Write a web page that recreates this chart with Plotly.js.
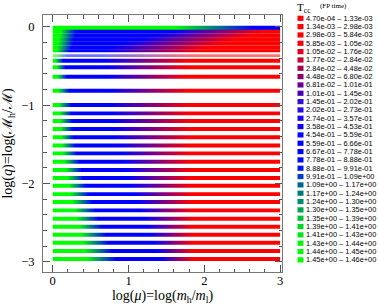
<!DOCTYPE html>
<html><head><meta charset="utf-8">
<script src="https://cdn.plot.ly/plotly-3.0.1.min.js"></script>
<style>html,body{margin:0;padding:0;background:#fff}</style>
</head><body><div id="chart" style="width:379px;height:305px"></div>
<script>
// ---- legend bins: T_cc (FP time) ----
const binLow  = ['4.70e-04','1.34e-03','2.98e-03','5.85e-03','1.05e-02','1.77e-02','2.84e-02','4.48e-02','6.81e-02','1.01e-01',
                 '1.45e-01','2.02e-01','2.74e-01','3.58e-01','4.54e-01','5.59e-01','6.67e-01','7.78e-01','8.88e-01','9.91e-01',
                 '1.09e+00','1.17e+00','1.24e+00','1.30e+00','1.35e+00','1.39e+00','1.41e+00','1.43e+00','1.44e+00','1.45e+00'];
const binHigh = ['1.33e-03','2.98e-03','5.84e-03','1.05e-02','1.76e-02','2.84e-02','4.48e-02','6.80e-02','1.01e-01','1.45e-01',
                 '2.02e-01','2.73e-01','3.57e-01','4.53e-01','5.59e-01','6.66e-01','7.78e-01','8.88e-01','9.91e-01','1.09e+00',
                 '1.17e+00','1.24e+00','1.30e+00','1.35e+00','1.39e+00','1.41e+00','1.43e+00','1.44e+00','1.45e+00','1.46e+00'];
const binColors = ['#ff0000','#ff0000','#fb0004','#f0000c','#e00018','#c80030','#a8004c','#880070','#680098','#4800c0',
                   '#3010d8','#2010e8','#1808f0','#1000f8','#0808ff','#0000ff','#0000ff','#0008f8','#0018e8','#0040c0',
                   '#006890','#007c78','#008c68','#00a450','#00c038','#00d828','#00e818','#00f410','#00fa08','#00ff00'];

// ---- x extent of the simulated log(mu) range ----
const muMin = 0, muMax = 3;

// ---- dense block near log(q)=0: row edges and colour anchors (x where green ends, blue starts, blue ends, red starts) ----
const stripeTop = 0.014, stripeBot = -0.04;
const stripeGreenEnd = 1.6, stripeBlueStart = 2.65;
const blockTop      = [-0.04, -0.09, -0.14, -0.19, -0.24, -0.29];
const blockBot      = [-0.09, -0.14, -0.19, -0.24, -0.29, -0.326];
const blockGreenEnd = [0.10, 0.09, 0.08, 0.07, 0.06, 0.05];
const blockBlueStart= [0.30, 0.30, 0.28, 0.27, 0.25, 0.22];
const blockBlueEnd  = [1.60, 1.35, 1.15, 0.95, 0.80, 0.70];
const blockRedStart = [2.80, 2.60, 2.40, 2.25, 2.05, 1.95];
const paleTop = -0.35, paleBot = -0.385;

// ---- separate bands at lower log(q) ----
const bandY = [-0.433,-0.517,-0.637,-0.816,-0.999,-1.105,-1.203,-1.305,-1.411,-1.516,-1.616,-1.723,
               -1.829,-1.931,-2.029,-2.136,-2.238,-2.344,-2.451,-2.553,-2.655,-2.757,-2.863,-2.966];
const bandGreenEnd  = [0.03,0.05,0.06,0.07,0.08,0.09,0.10,0.10,0.11,0.12,0.13,0.15,
                       0.17,0.19,0.21,0.23,0.26,0.28,0.31,0.34,0.37,0.39,0.42,0.45];
const bandBlueStart = [0.14,0.17,0.19,0.22,0.24,0.25,0.26,0.27,0.28,0.30,0.32,0.35,
                       0.38,0.41,0.44,0.48,0.52,0.56,0.60,0.65,0.70,0.74,0.79,0.84];
const bandBlueEnd   = [0.70,0.72,0.74,0.76,0.78,0.80,0.81,0.82,0.84,0.86,0.90,0.93,
                       0.96,1.00,1.04,1.08,1.12,1.16,1.21,1.25,1.29,1.33,1.37,1.42];
const bandRedStart  = [1.78,1.78,1.78,1.79,1.80,1.80,1.80,1.81,1.82,1.82,1.82,1.83,
                       1.83,1.83,1.84,1.84,1.84,1.84,1.85,1.85,1.85,1.85,1.85,1.85];

// ---- styling ----
const G = '#00ff00', B = '#0000ff', R = '#ff0000';
const bandHalf = 0.025;
const serif = 'Liberation Serif, Times New Roman, serif';
const sans = 'Liberation Sans, Arial, sans-serif';

const traces = [];
function addRow(yTop, yBot, stops, colors, op) {
  const lo = muMin, hi = muMax;
  traces.push({
    type: 'scatter', mode: 'none',
    x: [lo, hi, hi, lo, lo], y: [yBot, yBot, yTop, yTop, yBot],
    fill: 'toself', fillcolor: colors[0],
    fillgradient: {type: 'horizontal', start: lo, stop: hi,
      colorscale: stops.map((s, i) => [(s - lo) / (hi - lo), colors[i]])},
    opacity: op, hoverinfo: 'skip', showlegend: false
  });
}
addRow(stripeTop, stripeBot, [muMin, stripeGreenEnd, stripeBlueStart, muMax], [G, G, B, B], 1);
for (let i = 0; i < blockTop.length; i++) {
  addRow(blockTop[i] + 0.003, blockBot[i],
    [muMin, blockGreenEnd[i], blockBlueStart[i], blockBlueEnd[i], blockRedStart[i], muMax], [G, G, B, B, R, R], 1);
}
addRow(paleTop, paleBot, [muMin, 0.05, 0.2, 0.65, 1.9, muMax], [G, G, B, B, R, R], 0.55);
for (let i = 0; i < bandY.length; i++) {
  addRow(bandY[i] + bandHalf, bandY[i] - bandHalf,
    [muMin, bandGreenEnd[i], bandBlueStart[i], bandBlueEnd[i], bandRedStart[i], muMax], [G, G, B, B, R, R], 1);
}

// ---- legend drawn with shapes + annotations (pixel layout) ----
const plotL = 43, plotR = 282, plotT = 15, plotB = 272;
const px2x = p => (p - plotL) / (plotR - plotL);
const py2y = p => (plotB - p) / (plotB - plotT);
const shapes = [], annotations = [];
for (let i = 0; i < binLow.length; i++) {
  const cy = 18.3 + 8.33 * i;
  shapes.push({type: 'rect', xref: 'paper', yref: 'paper',
    x0: px2x(297.5), x1: px2x(303.5), y0: py2y(cy + 2.6), y1: py2y(cy - 2.6),
    fillcolor: binColors[i], line: {width: 0}});
  annotations.push({xref: 'paper', yref: 'paper', x: px2x(304.5), y: py2y(cy),
    xanchor: 'left', yanchor: 'middle', showarrow: false, borderpad: 0,
    text: binLow[i] + ' \u2013 ' + binHigh[i], font: {family: sans, size: 7.4, color: '#000'}});
}
annotations.push({xref: 'paper', yref: 'paper', x: px2x(296), y: py2y(7.6), xanchor: 'left', yanchor: 'middle',
  showarrow: false, borderpad: 0, text: 'T<sub>cc</sub>', font: {family: serif, size: 11, color: '#000'}});
annotations.push({xref: 'paper', yref: 'paper', x: px2x(319), y: py2y(6.5), xanchor: 'left', yanchor: 'middle',
  showarrow: false, borderpad: 0, text: '(FP time)', font: {family: serif, size: 7, color: '#000'}});

const axisCommon = {
  showgrid: false, zeroline: false, showline: true, mirror: 'ticks',
  linecolor: '#777', linewidth: 1, ticks: 'inside', ticklen: 7, tickcolor: '#555',
  tickfont: {family: serif, size: 12.5, color: '#000'}
};
const layout = {
  width: 379, height: 305,
  margin: {l: plotL, r: 379 - plotR, t: plotT, b: 305 - plotB, pad: 0},
  paper_bgcolor: '#fff', plot_bgcolor: '#fff', showlegend: false,
  xaxis: Object.assign({}, axisCommon, {
    range: [-0.128, 3.025], tickvals: [0, 1, 2, 3], ticklabelstandoff: -3,
    minor: {ticks: 'inside', ticklen: 3.5, tick0: 0, dtick: 0.2, tickcolor: '#555'},
    title: {text: 'log(<i>μ</i>)=log(<i>m</i><sub>h</sub>/<i>m</i><sub>l</sub>)',
      font: {family: serif, size: 14, color: '#000'}, standoff: 4}
  }),
  yaxis: Object.assign({}, axisCommon, {
    range: [-3.131, 0.151], tickvals: [0, -1, -2, -3], ticklabelstandoff: 5,
    minor: {ticks: 'inside', ticklen: 3.5, tick0: 0, dtick: 0.2, tickcolor: '#555'},
    title: {text: 'log(<i>q</i>)=log(ℳ<sub>h</sub>/ℳ)',
      font: {family: serif, size: 14, color: '#000'}, standoff: 6}
  }),
  shapes: shapes, annotations: annotations
};
Plotly.newPlot('chart', traces, layout, {staticPlot: true, displayModeBar: false});
</script></body></html>
